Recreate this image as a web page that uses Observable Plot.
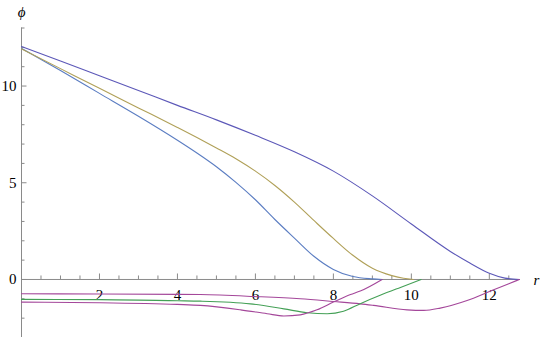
<!DOCTYPE html>
<html><head><meta charset="utf-8">
<script src="https://cdn.jsdelivr.net/npm/d3@7"></script>
<script src="https://cdn.jsdelivr.net/npm/@observablehq/plot@0.6"></script>
<style>
body{margin:0;background:#fff}
#chart svg text{font-family:"Liberation Serif",serif !important;}
</style>
</head><body><div id="chart"></div>
<script>
// tick values
const xMajorTicks = [2, 4, 6, 8, 10, 12];
const xMinorTicks = [0.5,1,1.5,2.5,3,3.5,4.5,5,5.5,6.5,7,7.5,8.5,9,9.5,10.5,11,11.5,12.5];
const yMajorTicks = [0, 5, 10];
const yMinorTicks = [-3,-2,-1,1,2,3,4,6,7,8,9,11,12,13];

// series (r, phi)
const blueR   = [0,1,2,3,4,4.5,5,5.5,6,6.5,7,7.5,8,8.5,9,9.25];
const bluePhi = [11.95,10.8,9.62,8.44,7.2,6.54,5.83,5.02,4.12,3.1,2.14,1.2,0.52,0.15,0.03,0];
const goldR   = [0,1,2,3,4,4.5,5,5.5,6,6.5,7,7.5,8,8.5,9,9.5,9.8,10.05];
const goldPhi = [11.92,10.9,9.88,8.87,7.86,7.34,6.8,6.24,5.6,4.86,4.0,3.05,2.12,1.25,0.58,0.2,0.06,0];
const purpleR   = [0,1,2,3,4,5,6,7,8,9,10,11,11.5,12,12.4,12.77];
const purplePhi = [12.04,11.29,10.53,9.77,9.0,8.25,7.45,6.6,5.6,4.32,2.87,1.45,0.85,0.32,0.07,0];
const magentaAR   = [0,2,4,4.59,5.96,7.15,8.0,8.69,9.03,9.89,10.32,10.74,11.43,12.03,12.5,12.77];
const magentaAPhi = [-0.74,-0.75,-0.77,-0.78,-0.88,-1.0,-1.14,-1.26,-1.34,-1.57,-1.60,-1.48,-1.09,-0.60,-0.22,0];
const greenR   = [0,2,4,4.59,5.87,6.73,7.33,7.84,8.26,8.69,9.2,9.72,10.25];
const greenPhi = [-1.03,-1.04,-1.10,-1.12,-1.26,-1.52,-1.72,-1.77,-1.64,-1.25,-0.82,-0.41,0];
const magentaBR   = [0,2,4,4.59,5.62,6.3,6.73,7.15,7.58,8.0,8.44,8.69,9.25];
const magentaBPhi = [-1.17,-1.2,-1.29,-1.34,-1.57,-1.77,-1.89,-1.83,-1.57,-1.17,-0.78,-0.6,0];

const series = [
  {name: "blue", r: blueR, phi: bluePhi, color: "#5b7dc2"},
  {name: "gold", r: goldR, phi: goldPhi, color: "#b0a058"},
  {name: "purple", r: purpleR, phi: purplePhi, color: "#5c58b8"},
  {name: "magentaA", r: magentaAR, phi: magentaAPhi, color: "#a4479a"},
  {name: "green", r: greenR, phi: greenPhi, color: "#44a056"},
  {name: "magentaB", r: magentaBR, phi: magentaBPhi, color: "#a4479a"}
];
const rows = series.flatMap(s => s.r.map((r, i) => ({name: s.name, r, phi: s.phi[i]})));

const W = 540, H = 337;
const mL = 21, mR = 20, mT = 27.5, mB = 0;
const xDom = [0, 12.8], yDom = [-3, 13];
const pxX = (W - mL - mR) / (xDom[1] - xDom[0]);
const pxY = (H - mT - mB) / (yDom[1] - yDom[0]);
const axisColor = "#8a8a8a";
const font = "Liberation Serif";

const chart = Plot.plot({
  width: W, height: H,
  marginLeft: mL, marginRight: mR, marginTop: mT, marginBottom: mB,
  x: {domain: xDom, axis: null},
  y: {domain: yDom, axis: null},
  style: {background: "#fff", overflow: "visible", fontFamily: font},
  marks: [
    Plot.ruleY([0], {x1: xDom[0], x2: xDom[1], stroke: axisColor, strokeWidth: 1}),
    Plot.ruleX([0], {y1: yDom[0], y2: yDom[1], stroke: axisColor, strokeWidth: 1}),
    Plot.ruleX(xMajorTicks, {x: d => d, y1: 0, y2: 5.5 / pxY, stroke: axisColor}),
    Plot.ruleX(xMinorTicks, {x: d => d, y1: 0, y2: 3.5 / pxY, stroke: axisColor}),
    Plot.ruleY(yMajorTicks, {y: d => d, x1: 0, x2: 5.5 / pxX, stroke: axisColor}),
    Plot.ruleY(yMinorTicks, {y: d => d, x1: 0, x2: 3.5 / pxX, stroke: axisColor}),
    Plot.text(xMajorTicks, {x: d => d, y: 0, dy: 16, text: d => String(d), fontSize: 15, fontFamily: font, fill: "#000"}),
    Plot.text(yMajorTicks, {x: 0, y: d => d, dx: -5, textAnchor: "end", text: d => String(d), fontSize: 15, fontFamily: font, fill: "#000"}),
    Plot.text(["ϕ"], {x: 0, y: yDom[1], dy: -15.5, text: d => d, fontSize: 15, fontStyle: "italic", fontFamily: font, fill: "#000"}),
    Plot.text(["r"], {x: xDom[1], y: 0, dx: 16, dy: 1, text: d => d, fontSize: 15, fontStyle: "italic", fontFamily: font, fill: "#000"}),
    ...series.map(s => Plot.line(rows.filter(d => d.name === s.name), {x: "r", y: "phi", stroke: s.color, strokeWidth: 1.1, curve: "monotone-x"}))
  ]
});
document.getElementById("chart").appendChild(chart);
</script>
</body></html>
